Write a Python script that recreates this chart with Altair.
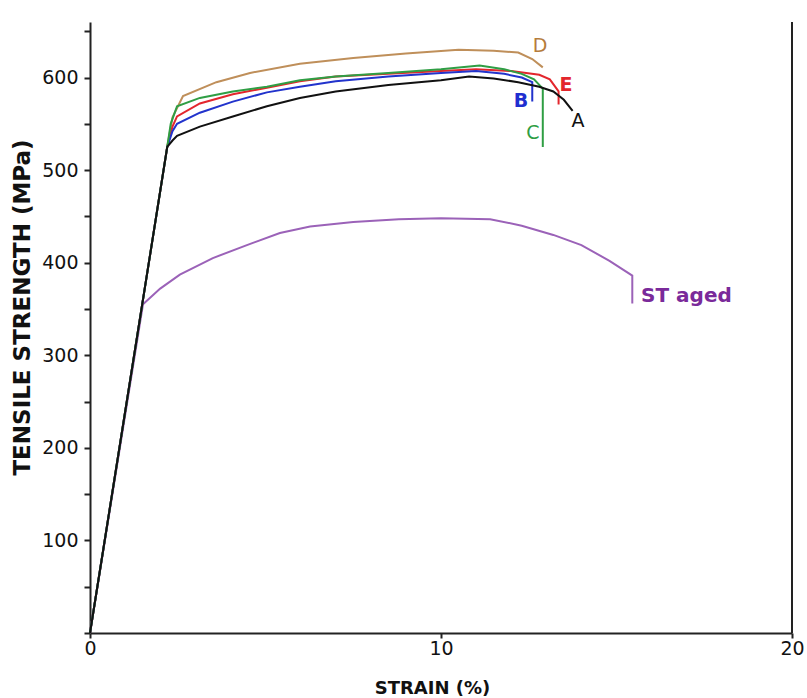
import altair as alt
import pandas as pd

# ---- data ----
series_names = ["ST aged", "D", "E", "B", "C", "A"]
series_colors = ["#9b62b8", "#bf8f5a", "#e3262d", "#2233cc", "#2f9e44", "#111111"]

a_x = [0, 2.2, 2.35, 2.48, 3.13, 4.07, 5.04, 5.98, 7.0, 8.5, 10.0, 10.8, 11.5, 12.2, 12.8, 13.2, 13.5, 13.75]
a_y = [0, 525, 532, 537, 547, 558, 569, 578, 585, 592, 597, 601, 599, 595, 590, 585, 576, 564]

b_x = [0, 2.2, 2.35, 2.48, 3.13, 4.07, 5.04, 5.98, 7.0, 8.5, 10.0, 11.0, 11.8, 12.3, 12.6, 12.6]
b_y = [0, 525, 542, 550, 562, 574, 584, 590, 596, 601, 605, 607, 604, 600, 595, 574]

c_x = [0, 2.2, 2.3, 2.48, 3.13, 4.07, 5.04, 5.98, 7.0, 8.5, 10.0, 11.1, 11.8, 12.3, 12.65, 12.9, 12.9]
c_y = [0, 525, 550, 569, 578, 585, 590, 597, 601, 605, 609, 613, 609, 604, 598, 588, 525]

d_x = [0, 2.2, 2.35, 2.65, 3.6, 4.56, 5.98, 7.5, 9.0, 10.5, 11.5, 12.2, 12.6, 12.9]
d_y = [0, 525, 557, 580, 595, 605, 615, 621, 626, 630, 629, 627, 620, 611]

e_x = [0, 2.2, 2.35, 2.48, 3.13, 4.07, 5.04, 5.98, 7.0, 8.5, 10.0, 11.0, 12.0, 12.8, 13.1, 13.35, 13.35]
e_y = [0, 525, 547, 558, 572, 582, 589, 596, 601, 604, 607, 609, 607, 603, 598, 585, 571]

st_x = [0, 1.51, 2.0, 2.56, 3.5, 4.47, 5.41, 6.27, 7.5, 8.8, 10.0, 11.4, 12.3, 13.2, 14.0, 14.8, 15.45, 15.45]
st_y = [0, 355, 372, 387, 405, 419, 432, 439, 444, 447, 448, 447, 440, 430, 419, 402, 386, 356]

# curve-end labels
label_text = ["D", "E", "B", "C", "A", "ST aged"]
label_x = [12.82, 13.56, 12.28, 12.62, 13.9, 15.7]
label_y = [634, 592, 575, 540, 553, 364]
label_color = ["#b57c3c", "#e3262d", "#1f2fd0", "#2f9e44", "#111111", "#7a2a9a"]
label_bold = [False, True, True, False, False, True]

x_ticks = [0, 10, 20]
y_ticks = list(range(0, 651, 50))

# ---- build table ----
rows = []
for name, xs, ys in [("ST aged", st_x, st_y), ("D", d_x, d_y), ("E", e_x, e_y),
                     ("B", b_x, b_y), ("C", c_x, c_y), ("A", a_x, a_y)]:
    for i, (xv, yv) in enumerate(zip(xs, ys)):
        rows.append({"series": name, "strain": xv, "stress": yv, "idx": i})
df = pd.DataFrame(rows)

lab = pd.DataFrame({"text": label_text, "x": label_x, "y": label_y,
                    "color": label_color, "bold": label_bold})

xscale = alt.Scale(domain=[0, 20], nice=False, zero=False)
yscale = alt.Scale(domain=[0, 660], nice=False)

lines = alt.Chart(df).mark_line(strokeWidth=2).encode(
    x=alt.X("strain:Q", scale=xscale,
            axis=alt.Axis(values=x_ticks, title="STRAIN (%)", grid=False,
                          tickSize=5, labelPadding=1, labelFlush=False,
                          titleX=342, titleY=55, titleBaseline="middle")),
    y=alt.Y("stress:Q", scale=yscale,
            axis=alt.Axis(values=y_ticks, title="TENSILE STRENGTH (MPa)", grid=False,
                          tickSize=6, labelPadding=6, labelFlush=False,
                          labelExpr="datum.value % 100 == 0 && datum.value > 0 ? datum.label : ''",
                          titleX=-68, titleY=285, titleAngle=-90,
                          titleAlign="center", titleBaseline="middle")),
    color=alt.Color("series:N", scale=alt.Scale(domain=series_names, range=series_colors),
                    legend=None),
    detail="series:N",
    order="idx:Q",
)

border = alt.Chart().mark_rule(color="#222222", strokeWidth=2).encode(
    x=alt.datum(20, scale=xscale), y=alt.datum(0), y2=alt.datum(660)
)

lab_norm = alt.Chart(lab).transform_filter("!datum.bold").mark_text(
    font="DejaVu Sans", fontSize=19, align="center", baseline="middle"
).encode(x=alt.X("x:Q", scale=xscale), y=alt.Y("y:Q", scale=yscale),
         text="text:N", color=alt.Color("color:N", scale=None))

lab_bold = alt.Chart(lab).transform_filter("datum.bold && datum.text != 'ST aged'").mark_text(
    font="DejaVu Sans", fontSize=19, fontWeight="bold", align="center", baseline="middle"
).encode(x=alt.X("x:Q", scale=xscale), y=alt.Y("y:Q", scale=yscale),
         text="text:N", color=alt.Color("color:N", scale=None))

lab_st = alt.Chart(lab).transform_filter("datum.text == 'ST aged'").mark_text(
    font="DejaVu Sans", fontSize=20, fontWeight="bold", align="left", baseline="middle"
).encode(x=alt.X("x:Q", scale=xscale), y=alt.Y("y:Q", scale=yscale),
         text="text:N", color=alt.Color("color:N", scale=None))

chart = alt.layer(lines, border, lab_norm, lab_bold, lab_st).properties(
    width=702, height=611,
    autosize=alt.AutoSizeParams(type="none"),
    padding={"left": 90, "top": 22, "right": 15, "bottom": 65},
    background="white",
).configure_view(stroke=None).configure_axis(
    domainColor="#222222", domainWidth=2, tickColor="#222222", tickWidth=2,
    labelFont="DejaVu Sans", labelFontSize=19, labelColor="#111111",
    titleFont="DejaVu Sans", titleFontWeight="bold", titleColor="#111111",
).configure_axisX(titleFontSize=18).configure_axisY(titleFontSize=23)

chart.save("out.html", embed_options={"renderer": "svg", "actions": False})
